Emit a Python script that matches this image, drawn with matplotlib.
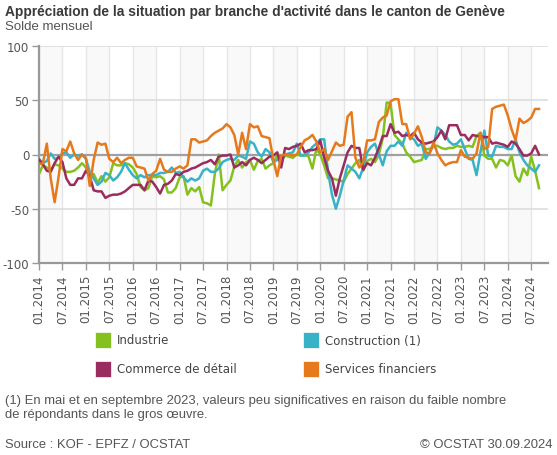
import numpy as np
import pandas as pd
import matplotlib
matplotlib.use("Agg")
import matplotlib.pyplot as plt
from matplotlib.patches import Rectangle

months = pd.date_range("2014-01-01", periods=129, freq="MS")

industrie = [-18, -10, -12, -14, -9, -10, -13, -16, -16, -15, -12, -8,
             -12, -22, -18, -26, -20, -25, -21, -8, -10, -10, -8, -9,
             -12, -18, -30, -33, -31, -20, -21, -20, -23, -35, -35, -31,
             -21, -20, -37, -31, -34, -30, -44, -45, -47, -18, 0, -33,
             -28, -24, -11, -5, -12, -7, -5, -14, -6, -4, -13, -10,
             -8, 0, -6, -1, -2, -3, 0, -1, 0, -2, -13, 5,
             0, -10, -22, -22, -23, -24, -25, -18, -13, -8, -5, -15,
             -6, -4, -7, 0, 15, 48, 47, 18, 14, 10, 2, -2,
             -7, -6, -5, 5, 5, 8, 8, 6, 5, 6, 6, 8,
             7, 7, 8, 7, 17, 20, -1, -4, -4, -12, -5, -6,
             -10, -1, -20, -25, -13, -19, -2, -15, -31]

construction = [-4, -8, -6, 1, -4, -3, 1, 2, -3, 0, -1, 0,
                -4, -16, -22, -28, -25, -17, -19, -24, -21, -16, -8, -14,
                -19, -22, -19, -21, -19, -19, -19, -17, -17, -16, -12, -17,
                -16, -21, -25, -22, -24, -22, -15, -13, -16, -16, -13, -7,
                -5, -4, -5, -1, -2, -4, 12, 10, 2, -2, 5, 2,
                -7, -5, -2, 0, 1, 2, 10, -1, -1, 2, 7, 10,
                14, 14, -16, -37, -50, -38, -24, -10, -13, -16, -22, -12,
                2, 7, 10, 0, -10, 3, 8, 8, 12, 8, 20, 16,
                14, 8, 10, -4, 2, 8, 25, 22, 18, 12, 9, 10,
                14, 5, -4, -5, -19, 2, 22, -1, -2, 8, 7, 7,
                5, 5, 14, 2, -5, -10, -13, -16, -10]

commerce = [-5, -9, -15, -16, -8, -2, -7, -22, -28, -28, -22, -22,
            -15, -20, -33, -34, -34, -40, -38, -37, -37, -36, -34, -31,
            -28, -28, -28, -33, -24, -25, -30, -36, -28, -27, -24, -18,
            -19, -16, -15, -13, -12, -10, -8, -7, -5, -9, -2, -1,
            -1, 0, -12, -10, -7, -10, -5, -3, -5, -8, -5, -2,
            -1, 2, -12, 6, 5, 7, 8, 10, 2, 4, 4, 5,
            13, -3, -15, -22, -38, -22, -10, 2, 8, 6, 6, -14,
            -8, -10, -3, 6, 17, 17, 28, 20, 21, 17, 18, 17,
            20, 14, 11, 10, 11, 12, 16, 22, 14, 27, 27, 27,
            18, 18, 13, 18, 17, 17, 16, 16, 10, 11, 10, 9,
            7, 12, 10, 5, -1, -1, 1, 8, 0]

services = [-9, -8, 10, -22, -44, -21, 5, 3, 12, 1, -5, 0,
            -3, -29, -5, 11, 9, 10, -4, -7, -3, -8, -5, -3,
            -3, -11, -12, -13, -24, -18, -15, -4, -14, -16, -16, -13,
            -11, -13, -10, 14, 14, 11, 12, 13, 17, 20, 22, 24,
            28, 25, 18, 0, 20, 5, 28, 25, 26, 17, 16, 15,
            -5, -20, -1, 0, 0, -1, 0, 7, 13, 15, 18, 12,
            2, 5, -5, 3, 11, 8, 9, 35, 39, -3, -12, -7,
            13, 13, 14, 30, 34, 36, 49, 51, 51, 28, 28, 14,
            19, 26, 16, 2, 1, 11, 1, -5, -10, -8, -7, -7,
            4, -2, -3, -4, 1, 20, 5, 7, 42, 44, 45, 46,
            36, 23, 13, 33, 29, 31, 34, 42, 42]

series = [industrie, construction, commerce, services]
names = ["Industrie", "Construction (1)", "Commerce de détail", "Services financiers"]
colors = ["#84c11f", "#38b2c6", "#9b2c5e", "#e6791c"]

yticks = [100, 50, 0, -50, -100]
ylabels = ["100", "50", "0", "-50", "-100"]

txt = "#555555"

fig = plt.figure(figsize=(5.57, 4.56), dpi=100)
ax = fig.add_axes([39 / 557, 1 - 264 / 456, (548 - 39) / 557, (264 - 47) / 456])

x = np.arange(len(months))

# bandes grises : premier semestre de chaque année
for i in range(0, len(months), 12):
    ax.axvspan(i, i + 6, color="#f9f9f9", lw=0, zorder=0)

ticks = x[::6]
for t in ticks:
    ax.axvline(t, color="#e6e6e6", lw=1, zorder=1)
for v in yticks:
    if v != 0:
        ax.axhline(v, color="#dddddd", lw=1.2, zorder=1)
ax.axhline(0, color="#a0a0a0", lw=1.6, zorder=2)

for vals, c in zip(series, colors):
    ax.plot(x, vals, color=c, lw=1.8, zorder=3)

ax.set_xlim(0, 130.3)
ax.set_ylim(-100, 100)
ax.set_xticks(ticks)
ax.set_xticklabels(months[::6].strftime("%m.%Y"), rotation=90)
ax.set_yticks(yticks)
ax.set_yticklabels(ylabels)
ax.tick_params(axis="both", colors="#999999", labelcolor=txt, labelsize=8.5,
               length=5, width=1)
ax.tick_params(axis="x", pad=3)
ax.tick_params(axis="y", pad=2)

for s in ["top", "right"]:
    ax.spines[s].set_visible(False)
ax.spines["left"].set_color("#999999")
ax.spines["left"].set_linewidth(1.6)
ax.spines["bottom"].set_color("#999999")
ax.spines["bottom"].set_linewidth(1.6)

fig.text(5 / 557, 1 - 12 / 456, "Appréciation de la situation par branche d'activité dans le canton de Genève",
         family="Liberation Sans", weight="bold", fontsize=9.9, color="#3a3a3a", va="center")
fig.text(5 / 557, 1 - 27 / 456, "Solde mensuel", family="Liberation Sans",
         fontsize=9.5, color=txt, va="center")

# légende
leg_x = [95, 303]
leg_y = [341, 370]
for k, (name, c) in enumerate(zip(names, colors)):
    px = leg_x[k % 2]
    py = leg_y[k // 2]
    fig.patches.append(Rectangle((px / 557, 1 - (py + 8) / 456), 16 / 557, 16 / 456,
                                 transform=fig.transFigure, facecolor=c,
                                 edgecolor="white", lw=0.5))
    fig.text((px + 22) / 557, 1 - py / 456, name, fontsize=8.5, color="#444444", va="center")

fig.text(5 / 557, 1 - 401 / 456,
         "(1) En mai et en septembre 2023, valeurs peu significatives en raison du faible nombre",
         family="Liberation Sans", fontsize=9.4, color=txt, va="center")
fig.text(5 / 557, 1 - 415 / 456, "de répondants dans le gros œuvre.",
         family="Liberation Sans", fontsize=9.4, color=txt, va="center")
fig.text(5 / 557, 1 - 445 / 456, "Source : KOF - EPFZ / OCSTAT",
         family="Liberation Sans", fontsize=9.4, color=txt, va="center")
fig.text(553 / 557, 1 - 445 / 456, "© OCSTAT 30.09.2024",
         family="Liberation Sans", fontsize=9.4, color=txt, va="center", ha="right")

fig.savefig("out.png", dpi=100)
